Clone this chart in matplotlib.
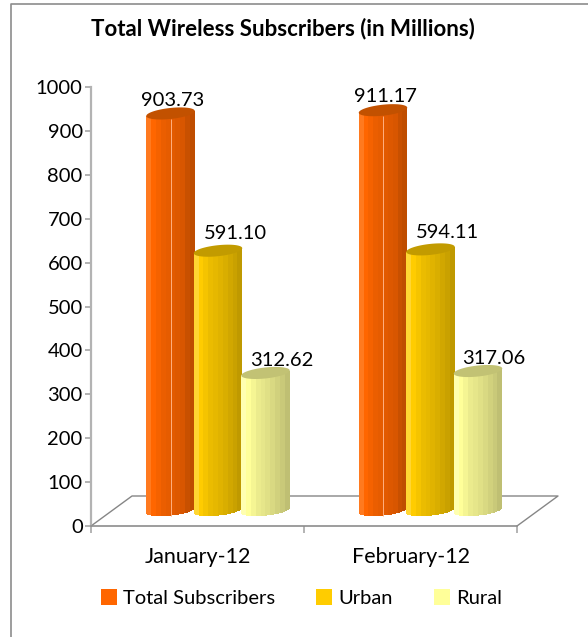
"""Total wireless subscribers, faux 3D cylinders."""
import numpy as np
import matplotlib

matplotlib.use("Agg")
import matplotlib.pyplot as plt
from matplotlib.patches import Patch

W, H = 588, 637

months = ["January-12", "February-12"]
series = ["Total Subscribers", "Urban", "Rural"]
total = [903.73, 911.17]
urban = [591.10, 594.11]
rural = [312.62, 317.06]
values = [total, urban, rural]
yticks = list(range(0, 1001, 100))

# flat colour for the legend, strips left to right for the cylinder, then the lid
COLORS = ["#FF6600", "#FFCC00", "#FFFF99"]
STRIPS = [
    ["#FF7A1F", "#FF6600", "#F56200", "#EB5E00", "#E65C00", "#E25A00", "#DD5800", "#D85600", "#C85000", "#BF4D00"],
    ["#FFD633", "#FFCC00", "#F5C400", "#EBBC00", "#E6B800", "#E0B300", "#D9AE00", "#D1A700", "#C9A100", "#BF9900"],
    ["#FFFFB0", "#FFFF99", "#F5F593", "#EBEB8D", "#E6E68A", "#E0E086", "#D9D982", "#D1D17D", "#C9C979", "#BFBF73"],
]
LIDS = ["#C25100", "#C29B00", "#C2C274"]

plt.rcParams["font.family"] = ["Lato", "DejaVu Sans"]

fig = plt.figure(figsize=(W / 100, H / 100), dpi=100, facecolor="white")
ax = fig.add_axes([91 / W, 1 - 526 / H, (517 - 91) / W, (526 - 87) / H])
ax.set_xlim(0, 2)
ax.set_ylim(0, 1000)
ax.patch.set_visible(False)

px_x = 2 / (517 - 91)
px_y = 1000 / (526 - 87)

# floor of the 3D box
dx, dy = 41 * px_x, 30 * px_y
ax.plot([0, dx, 2 + dx, 2], [0, dy, dy, 0], color="#868686", lw=1, clip_on=False, zorder=1)

bar_w = 48.5 * px_x
step = 47.5 * px_x
base = 36
ry = 5.5 * px_y
shear = 2.5 * px_y
centers = [(218 - 91) * px_x, (430.5 - 91) * px_x]

for i, vals in enumerate(values):
    strips = STRIPS[i]
    n = len(strips)
    for j, val in enumerate(vals):
        cx = centers[j] + (i - 1) * step
        z = 2 + i
        edges = np.linspace(-1, 1, n + 1)
        for k, col in enumerate(strips):
            sub = np.linspace(edges[k], edges[k + 1], 5)
            for u0, u1 in zip(sub[:-1], sub[1:]):
                u = (u0 + u1) / 2
                low = base - ry * np.sqrt(1 - u**2) + shear * u
                ax.bar(cx + u * bar_w / 2, base + val + shear * u - low, bottom=low,
                       width=(u1 - u0) * bar_w / 2 * 1.05, color=col, lw=0, clip_on=False, zorder=z)
        if i == 0:
            # thin highlight down the middle of the orange cylinder
            ax.vlines(cx, base - ry, base + val - ry, color="#FFB080", lw=0.7, zorder=z + 0.2, clip_on=False)
        t = np.linspace(0, 2 * np.pi, 80)
        ax.fill(cx + np.cos(t) * bar_w / 2,
                base + val + ry * np.sin(t) + shear * np.cos(t),
                color=LIDS[i], lw=0, clip_on=False, zorder=z + 0.5)

# value labels sit up and to the right of the lids
label_dx = [2, 17, 16]
label_dy = [29, 33, 28]
for i, vals in enumerate(values):
    for j, val in enumerate(vals):
        ax.text(centers[j] + (i - 1) * step + label_dx[i] * px_x, val + label_dy[i] * px_y,
                f"{val:.2f}", ha="center", va="center", fontsize=14.5, color="black",
                zorder=10, clip_on=False)

for side in ["top", "right"]:
    ax.spines[side].set_visible(False)
ax.spines["left"].set_color("#B3B3B3")
ax.spines["left"].set_linewidth(1.6)
ax.spines["bottom"].set_color("#8C8C8C")
ax.spines["bottom"].set_linewidth(1.2)
ax.set_yticks(yticks)
ax.set_xticks([0, 1, 2])
ax.set_xticklabels([])
ax.set_xticks([0.5, 1.5], months, minor=True)
ax.tick_params(axis="y", labelsize=14.5, length=4, width=1.2, color="#A6A6A6", pad=2)
ax.tick_params(axis="x", which="major", length=5, width=1.4, color="#B3B3B3")
ax.tick_params(axis="x", which="minor", length=0, labelsize=15.5, pad=15)

fig.text(283 / W, 1 - 29 / H, "Total Wireless Subscribers (in Millions)", ha="center", va="center",
         fontsize=16, fontweight="bold", color="black")

handles = [Patch(facecolor=c, label=s) for c, s in zip(COLORS, series)]
fig.legend(handles=handles, loc="center", bbox_to_anchor=(301.5 / W, 1 - 598 / H), ncol=3, frameon=False,
           fontsize=14.5, handlelength=0.8, handleheight=0.8, handletextpad=0.3, columnspacing=2.05)

# only the left and top edges of the chart frame are in the crop
fig.add_artist(plt.Line2D([11 / W, 11 / W, 1], [0, 1 - 4 / H, 1 - 4 / H], transform=fig.transFigure,
                          color="#8C8C8C", lw=1.2))
fig.savefig("out.png", dpi=100)
